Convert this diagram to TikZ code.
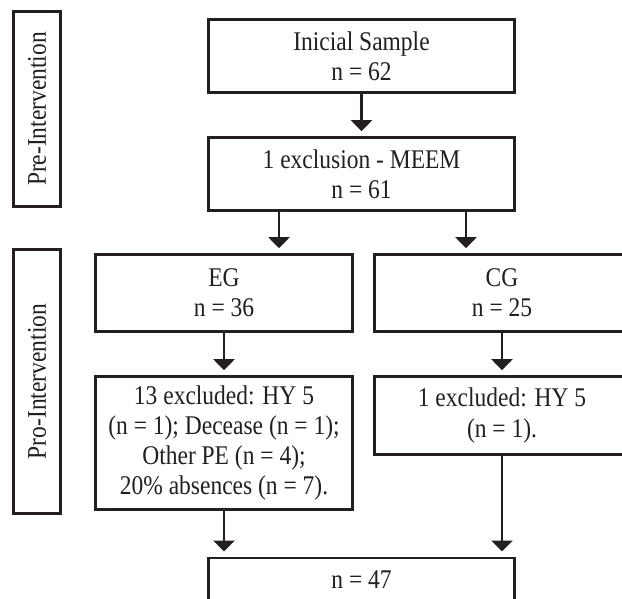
\documentclass[tikz,border=0pt]{standalone}
\usepackage{fontspec}
\setmainfont{Liberation Serif}[FakeStretch=0.87]
\usetikzlibrary{arrows.meta}
\definecolor{ink}{RGB}{35,31,32}
\begin{document}
\begin{tikzpicture}[x=1pt,y=-1pt,
  box/.style={draw=ink, line width=2.6pt, inner sep=0pt, align=center, text=ink,
    font=\fontsize{27}{30.3}\selectfont},
  side/.style={box, rotate=90},
  arr/.style={draw=ink, line width=2.2pt, -{Triangle[width=21pt,length=11pt]}, shorten >=5pt}]
\useasboundingbox (0,0) rectangle (622,598);
\clip (0,0) rectangle (622,598);
\fill[white] (0,0) rectangle (622,598);

% side labels
\node[side, minimum width=195pt, minimum height=47pt] (pre) at (37,109) {Pre-Intervention};
\node[side, minimum width=264pt, minimum height=47pt] (pro) at (37,381.5) {Pro-Intervention};

% main boxes
\node[box, minimum width=306pt, minimum height=73pt] (init) at (361.5,56) {Inicial Sample\\n = 62};
\node[box, minimum width=306pt, minimum height=73pt] (meem) at (361.5,174) {1 exclusion - MEEM\\n = 61};
\node[box, minimum width=257pt, minimum height=77pt] (eg) at (224,293) {EG\\n = 36};
\node[box, minimum width=255pt, minimum height=77pt] (cg) at (502,293) {CG\\n = 25};
\node[box, minimum width=257pt, minimum height=133pt] (egx) at (224,443)
  {13 excluded: HY 5\\(n = 1); Decease (n = 1);\\Other PE (n = 4);\\20\% absences (n = 7).};
\node[box, minimum width=255pt, minimum height=78pt] (cgx) at (502,415.5) {1 excluded: HY 5\\(n = 1).};
\node[box, minimum width=306pt, minimum height=73pt, anchor=north] (final) at (361.5,556.5) {n = 47\\\mbox{}};

% connectors
\coordinate (mL) at ([xshift=-82.5pt]meem.south);
\coordinate (mR) at ([xshift=104.5pt]meem.south);
\draw[arr] (init.south) -- (meem.north);
\draw[arr] (mL) -- (mL |- eg.north);
\draw[arr] (mR) -- (mR |- cg.north);
\draw[arr] (eg.south) -- (egx.north);
\draw[arr] (cg.south) -- (cgx.north);
\draw[arr] (egx.south) -- (egx.south |- final.north);
\draw[arr] (cgx.south) -- (cgx.south |- final.north);
\end{tikzpicture}
\end{document}
